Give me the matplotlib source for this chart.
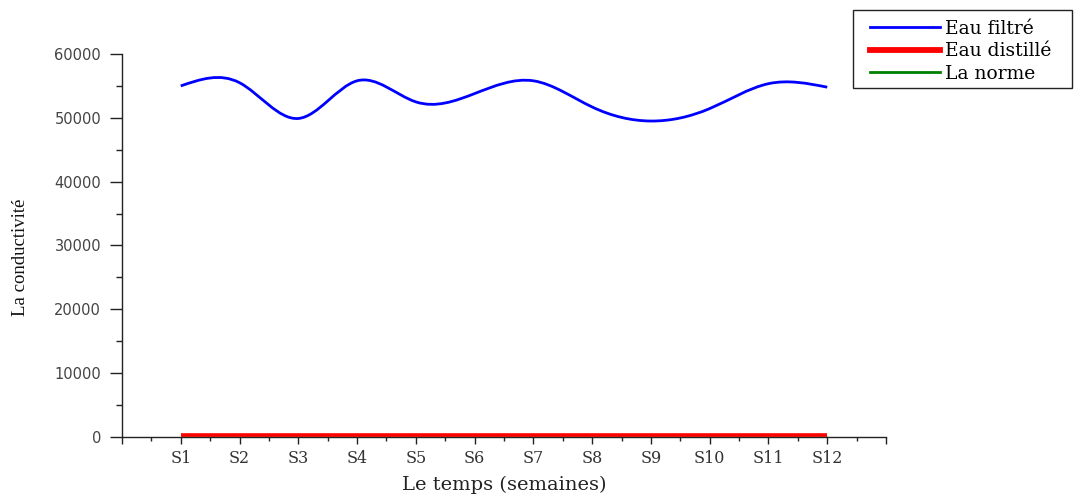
import numpy as np
import matplotlib
matplotlib.use("Agg")
import matplotlib.pyplot as plt
from matplotlib.path import Path
from matplotlib.patches import PathPatch, Rectangle
from matplotlib.lines import Line2D
from matplotlib.ticker import MultipleLocator

# Weekly conductivity measurements
weeks = ["S1", "S2", "S3", "S4", "S5", "S6", "S7", "S8", "S9", "S10", "S11", "S12"]
eau_filtre = [55000, 55500, 49900, 55800, 52500, 53800, 55800, 51700, 49500, 51450, 55350, 54800]
eau_distille = [300, 300, 300, 300, 300, 300, 300, 300, 300, 300, 300, 300]
la_norme = [60, 60, 60, 60, 60, 60, 60, 60, 60, 60, 60, 60]


def spline_path(xs, ys):
    """Natural cubic spline through the points, expressed as Bezier segments."""
    xs = np.asarray(xs, float)
    ys = np.asarray(ys, float)
    n = len(xs)
    h = np.diff(xs)
    A = np.zeros((n, n))
    b = np.zeros(n)
    A[0, 0] = A[-1, -1] = 1.0
    for i in range(1, n - 1):
        A[i, i - 1] = h[i - 1]
        A[i, i] = 2 * (h[i - 1] + h[i])
        A[i, i + 1] = h[i]
        b[i] = 6 * ((ys[i + 1] - ys[i]) / h[i] - (ys[i] - ys[i - 1]) / h[i - 1])
    M = np.linalg.solve(A, b)
    # first derivatives at the knots
    d = np.zeros(n)
    for i in range(n - 1):
        d[i] = (ys[i + 1] - ys[i]) / h[i] - h[i] * (2 * M[i] + M[i + 1]) / 6
    d[-1] = (ys[-1] - ys[-2]) / h[-1] + h[-1] * (M[-2] + 2 * M[-1]) / 6
    verts = [(xs[0], ys[0])]
    codes = [Path.MOVETO]
    for i in range(n - 1):
        verts += [(xs[i] + h[i] / 3, ys[i] + d[i] * h[i] / 3),
                  (xs[i + 1] - h[i] / 3, ys[i + 1] - d[i + 1] * h[i] / 3),
                  (xs[i + 1], ys[i + 1])]
        codes += [Path.CURVE4] * 3
    return Path(verts, codes)


x = np.arange(1, len(weeks) + 1)
W, H = 1076, 494

fig = plt.figure(figsize=(W / 100, H / 100), dpi=100)
ax = fig.add_axes([122 / W, 1 - 437 / H, 764 / W, 383 / H])

ax.plot(x, la_norme, color="#008000", lw=1.8, solid_capstyle="butt", zorder=2)
ax.plot(x, eau_distille, color="#ff0000", lw=2.6, solid_capstyle="butt", zorder=3)
ax.add_patch(PathPatch(spline_path(x, eau_filtre), facecolor="none",
                       edgecolor="#0000ff", lw=2.0, zorder=4))

ax.set_xlim(0, 13)
ax.set_ylim(0, 60000)
ax.spines["top"].set_visible(False)
ax.spines["right"].set_visible(False)
for s in ("left", "bottom"):
    ax.spines[s].set_linewidth(1.0)
    ax.spines[s].set_color("#222222")
ax.spines["bottom"].set_zorder(1)

ax.xaxis.set_minor_locator(MultipleLocator(0.5))
ax.yaxis.set_major_locator(MultipleLocator(10000))
ax.yaxis.set_minor_locator(MultipleLocator(5000))
ax.set_xticks(range(0, 14))
ax.set_xticklabels([""] + weeks + [""], family="DejaVu Serif", fontsize=11.5,
                   color="#333333")
ax.tick_params(axis="x", which="major", length=5, width=1.0, color="#222222", pad=4)
ax.tick_params(axis="x", which="minor", length=2.8, width=1.0, color="#222222")
ax.tick_params(axis="y", which="major", length=9, width=1.0, color="#222222", pad=6)
ax.tick_params(axis="y", which="minor", length=4.5, width=1.0, color="#222222")
for lbl in ax.get_yticklabels():
    lbl.set_family("DejaVu Sans")
    lbl.set_fontsize(10.5)
    lbl.set_color("#444444")

ax.set_xlabel("Le temps (semaines)", family="DejaVu Serif", fontsize=14,
              color="#222222", va="center")
ax.xaxis.set_label_coords(0.5, (437 - 485) / 383)
ax.set_ylabel("La conductivité", family="Liberation Serif", fontsize=13.5,
              color="#111111", va="center")
ax.yaxis.set_label_coords((20 - 122) / 764, (437 - 257) / 383)

# Legend box drawn as a separate frame around an unframed legend
fig.add_artist(Rectangle((853 / W, 1 - 88 / H), 219 / W, 78 / H,
                         transform=fig.transFigure, facecolor="white",
                         edgecolor="#222222", lw=1.0, zorder=5))
handles = [
    Line2D([], [], color="#0000ff", lw=2.0),
    Line2D([], [], color="#ff0000", lw=4.2),
    Line2D([], [], color="#008000", lw=2.0),
]
leg = fig.legend(handles, ["Eau filtré", "Eau distillé", "La norme"],
                 loc="upper left", bbox_to_anchor=(867 / W, 1 - 17 / H),
                 prop={"family": "DejaVu Serif", "size": 13.5},
                 frameon=False, handlelength=3.75, handletextpad=0.27,
                 labelspacing=0.24, borderpad=0.15, borderaxespad=0.0)
leg.set_zorder(6)

fig.savefig("out.png", dpi=100)
